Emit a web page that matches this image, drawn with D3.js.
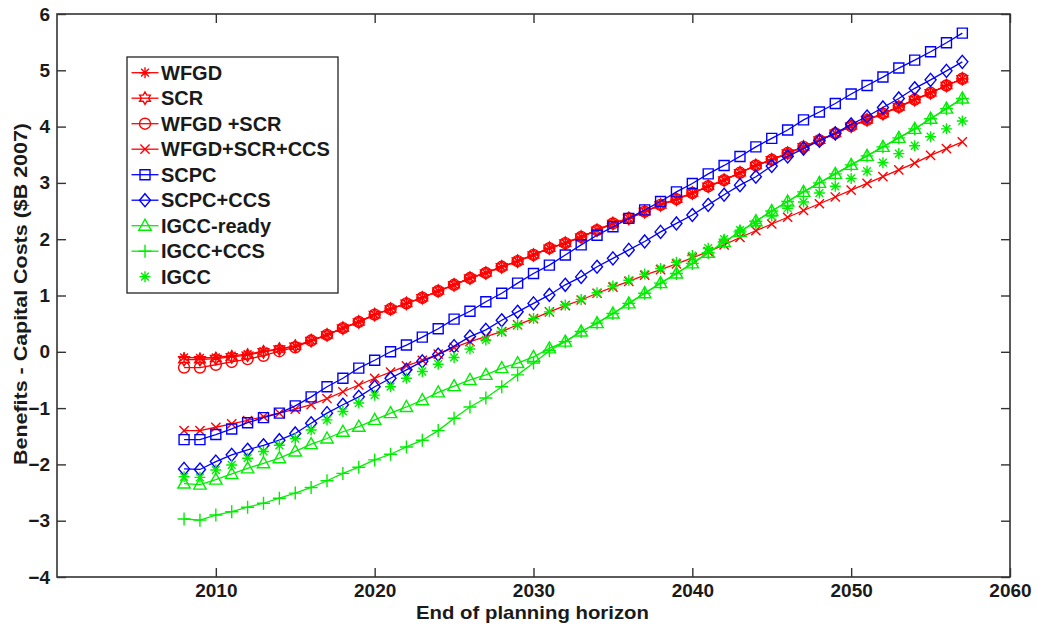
<!DOCTYPE html>
<html>
<head>
<meta charset="utf-8">
<script src="https://cdn.jsdelivr.net/npm/d3@7"></script>
<style>
  html, body { margin: 0; padding: 0; background: #fff; }
  svg { display: block; }
  text { font-family: "Liberation Sans", Arial, Helvetica, sans-serif; font-weight: bold; fill: #1a1a1a; }
</style>
</head>
<body>
<svg id="chart" width="1039" height="626"></svg>
<script>
// ---------------- DATA ----------------
const years = d3.range(2008, 2058);

const wfgd = [-0.10,-0.11,-0.10,-0.07,-0.04,0.01,0.05,0.10,0.20,0.30,0.42,0.53,0.66,0.76,0.86,0.96,1.08,1.19,1.31,1.40,1.51,1.61,1.72,1.84,1.93,2.04,2.16,2.28,2.37,2.49,2.61,2.71,2.82,2.94,3.05,3.18,3.31,3.41,3.53,3.64,3.76,3.88,4.01,4.12,4.23,4.35,4.48,4.60,4.73,4.85];
const scr = [-0.14,-0.14,-0.12,-0.09,-0.06,0.00,0.05,0.10,0.20,0.30,0.42,0.53,0.66,0.76,0.86,0.96,1.08,1.19,1.31,1.40,1.51,1.61,1.72,1.84,1.93,2.04,2.16,2.28,2.37,2.49,2.61,2.71,2.82,2.94,3.05,3.18,3.31,3.41,3.53,3.64,3.76,3.88,4.01,4.12,4.23,4.35,4.48,4.60,4.73,4.85];
const wfgdScr = [-0.28,-0.28,-0.23,-0.18,-0.13,-0.07,0.01,0.08,0.20,0.30,0.42,0.53,0.66,0.76,0.86,0.96,1.08,1.19,1.31,1.40,1.51,1.61,1.72,1.84,1.93,2.04,2.16,2.28,2.37,2.49,2.61,2.71,2.82,2.94,3.05,3.18,3.31,3.41,3.53,3.64,3.76,3.88,4.01,4.12,4.23,4.35,4.48,4.60,4.73,4.85];
const wfgdScrCcs = [-1.40,-1.40,-1.34,-1.28,-1.22,-1.15,-1.09,-1.02,-0.94,-0.83,-0.71,-0.59,-0.47,-0.36,-0.25,-0.15,-0.04,0.08,0.18,0.27,0.36,0.48,0.59,0.71,0.82,0.92,1.04,1.15,1.25,1.36,1.46,1.56,1.67,1.78,1.90,2.03,2.15,2.27,2.39,2.51,2.63,2.75,2.87,2.99,3.11,3.23,3.35,3.49,3.61,3.73];
const scpc = [-1.56,-1.56,-1.47,-1.37,-1.26,-1.17,-1.09,-0.96,-0.80,-0.62,-0.47,-0.29,-0.15,0.00,0.12,0.26,0.41,0.58,0.72,0.89,1.04,1.22,1.39,1.54,1.72,1.90,2.07,2.22,2.37,2.52,2.67,2.84,2.99,3.16,3.31,3.47,3.64,3.79,3.94,4.12,4.26,4.41,4.58,4.73,4.88,5.04,5.18,5.33,5.49,5.66];
const scpcCcs = [-2.08,-2.09,-1.95,-1.83,-1.74,-1.66,-1.57,-1.45,-1.27,-1.09,-0.94,-0.80,-0.62,-0.47,-0.32,-0.17,-0.05,0.10,0.27,0.39,0.56,0.71,0.86,1.01,1.19,1.33,1.51,1.66,1.81,1.96,2.13,2.28,2.43,2.61,2.79,2.96,3.11,3.30,3.47,3.61,3.75,3.88,4.04,4.18,4.34,4.50,4.68,4.83,4.99,5.15];
const igccReady = [-2.34,-2.36,-2.27,-2.17,-2.07,-1.98,-1.89,-1.77,-1.64,-1.54,-1.42,-1.33,-1.21,-1.09,-0.98,-0.86,-0.72,-0.61,-0.50,-0.41,-0.29,-0.20,-0.09,0.06,0.18,0.36,0.51,0.68,0.86,1.04,1.22,1.39,1.57,1.76,1.95,2.13,2.32,2.50,2.67,2.84,3.00,3.16,3.32,3.48,3.64,3.80,3.96,4.14,4.32,4.50];
const igccCcs = [-2.97,-2.99,-2.90,-2.84,-2.76,-2.69,-2.60,-2.51,-2.41,-2.29,-2.16,-2.05,-1.92,-1.82,-1.69,-1.57,-1.40,-1.18,-0.98,-0.82,-0.62,-0.41,-0.20,0.02,0.18,0.36,0.51,0.68,0.86,1.04,1.22,1.39,1.57,1.76,1.95,2.13,2.32,2.50,2.67,2.84,3.00,3.16,3.32,3.48,3.64,3.80,3.96,4.14,4.32,4.50];
const igcc = [-2.22,-2.23,-2.10,-2.01,-1.89,-1.77,-1.66,-1.54,-1.39,-1.21,-1.06,-0.91,-0.77,-0.62,-0.47,-0.35,-0.22,-0.10,0.05,0.21,0.36,0.48,0.59,0.71,0.83,0.93,1.05,1.17,1.27,1.38,1.48,1.59,1.71,1.84,2.00,2.16,2.28,2.41,2.55,2.66,2.82,2.94,3.08,3.21,3.36,3.52,3.66,3.82,3.96,4.10];

const seriesNames = ["WFGD","SCR","WFGD +SCR","WFGD+SCR+CCS","SCPC","SCPC+CCS","IGCC-ready","IGCC+CCS","IGCC"];
const seriesValues = [wfgd, scr, wfgdScr, wfgdScrCcs, scpc, scpcCcs, igccReady, igccCcs, igcc];
const seriesColors = ["#ff0000","#ff0000","#ff0000","#ff0000","#0000ff","#0000ff","#00ee00","#00ee00","#00ee00"];
const seriesMarkers = ["asterisk","hexagram","circle","x","square","diamond","triangle","plus","asterisk"];
const seriesHasLine = [true,true,true,true,true,true,true,true,false];

const xTicks = [2010,2020,2030,2040,2050,2060];
const yTicks = [-4,-3,-2,-1,0,1,2,3,4,5,6];
const xLabel = "End of planning horizon";
const yLabel = "Benefits - Capital Costs ($B 2007)";

// ---------------- LAYOUT ----------------
const svg = d3.select("#chart");
const L = 57, T = 14, R = 1010, B = 577;
const x = d3.scaleLinear().domain([2000, 2060]).range([L, R]);
const y = d3.scaleLinear().domain([-4, 6]).range([B, T]);

function markerPath(type) {
  const p = d3.path();
  if (type === "circle") {
    p.moveTo(5.5, 0); p.arc(0, 0, 5.5, 0, 2 * Math.PI);
  } else if (type === "square") {
    p.rect(-5, -5, 10, 10);
  } else if (type === "diamond") {
    p.moveTo(0, -6.5); p.lineTo(5.5, 0); p.lineTo(0, 6.5); p.lineTo(-5.5, 0); p.closePath();
  } else if (type === "triangle") {
    p.moveTo(0, -6.5); p.lineTo(6.2, 4.5); p.lineTo(-6.2, 4.5); p.closePath();
  } else if (type === "plus") {
    p.moveTo(-6.5, 0); p.lineTo(6.5, 0); p.moveTo(0, -6.5); p.lineTo(0, 6.5);
  } else if (type === "x") {
    p.moveTo(-4.6, -4.6); p.lineTo(4.6, 4.6); p.moveTo(-4.6, 4.6); p.lineTo(4.6, -4.6);
  } else if (type === "asterisk") {
    const r = 5.5, d = r * 0.7071;
    p.moveTo(-r, 0); p.lineTo(r, 0); p.moveTo(0, -r); p.lineTo(0, r);
    p.moveTo(-d, -d); p.lineTo(d, d); p.moveTo(-d, d); p.lineTo(d, -d);
  } else if (type === "hexagram") {
    const ro = 6.2, ri = 3.6;
    for (let i = 0; i < 12; i++) {
      const a = -Math.PI / 2 + i * Math.PI / 6;
      const rr = i % 2 === 0 ? ro : ri;
      const px = rr * Math.cos(a), py = rr * Math.sin(a);
      if (i === 0) p.moveTo(px, py); else p.lineTo(px, py);
    }
    p.closePath();
  }
  return p.toString();
}

// ---------------- SERIES ----------------
const plot = svg.append("g");
const line = d3.line().x((d, i) => x(years[i])).y(d => y(d));

seriesValues.forEach((vals, si) => {
  const g = plot.append("g");
  if (seriesHasLine[si]) {
    g.append("path").datum(vals).attr("d", line)
      .attr("fill", "none").attr("stroke", seriesColors[si]).attr("stroke-width", 1.3);
  }
  g.selectAll("path.m").data(vals).enter().append("path").attr("class", "m")
    .attr("d", markerPath(seriesMarkers[si]))
    .attr("transform", (d, i) => `translate(${x(years[i])},${y(d)})`)
    .attr("fill", "none").attr("stroke", seriesColors[si]).attr("stroke-width", 1.4);
});

// ---------------- AXES ----------------
const axisColor = "#333";
const tickLen = 9;
const axG = svg.append("g");
axG.append("rect").attr("x", L).attr("y", T).attr("width", R - L).attr("height", B - T)
  .attr("fill", "none").attr("stroke", axisColor).attr("stroke-width", 1.6);

const bottomAxis = d3.axisBottom(x).tickValues(xTicks).tickSize(-tickLen).tickPadding(6.5).tickFormat(d3.format("d"));
const topAxis = d3.axisTop(x).tickValues(xTicks).tickSize(-tickLen).tickFormat("");
const leftAxis = d3.axisLeft(y).tickValues(yTicks).tickSize(-tickLen).tickPadding(7).tickFormat(d3.format("d"));
const rightAxis = d3.axisRight(y).tickValues(yTicks).tickSize(-tickLen).tickFormat("");

function styleAxis(sel) {
  sel.select(".domain").remove();
  sel.selectAll(".tick line").attr("stroke", axisColor).attr("stroke-width", 1.4);
  sel.selectAll(".tick text").attr("font-size", 19).attr("font-family", null).attr("fill", "#1a1a1a");
}
axG.append("g").attr("transform", `translate(0,${B})`).call(bottomAxis).call(styleAxis);
axG.append("g").attr("transform", `translate(0,${T})`).call(topAxis).call(styleAxis);
axG.append("g").attr("transform", `translate(${L},0)`).call(leftAxis).call(styleAxis);
axG.append("g").attr("transform", `translate(${R},0)`).call(rightAxis).call(styleAxis);

svg.append("text").attr("x", 532.5).attr("y", 618.5).attr("text-anchor", "middle")
  .attr("font-size", 19).attr("textLength", 233).attr("lengthAdjust", "spacingAndGlyphs").text(xLabel);
svg.append("text").attr("transform", `translate(27,294) rotate(-90)`)
  .attr("text-anchor", "middle").attr("font-size", 19)
  .attr("textLength", 342).attr("lengthAdjust", "spacingAndGlyphs").text(yLabel);

// ---------------- LEGEND ----------------
const lg = svg.append("g");
lg.append("rect").attr("x", 127).attr("y", 57).attr("width", 211).attr("height", 236)
  .attr("fill", "#fff").attr("stroke", "#222").attr("stroke-width", 1.3);
seriesNames.forEach((name, si) => {
  const cy = 72.7 + si * 25.5;
  const row = lg.append("g").attr("transform", `translate(0,${cy})`);
  if (seriesHasLine[si]) {
    row.append("line").attr("x1", 131.5).attr("x2", 158.5).attr("y1", 0).attr("y2", 0)
      .attr("stroke", seriesColors[si]).attr("stroke-width", 1.3);
  }
  row.append("path").attr("d", markerPath(seriesMarkers[si])).attr("transform", "translate(145,0)")
    .attr("fill", "none").attr("stroke", seriesColors[si]).attr("stroke-width", 1.4);
  row.append("text").attr("x", 161).attr("y", 0).attr("dy", "0.36em")
    .attr("font-size", 20).text(name);
});
</script>
</body>
</html>
